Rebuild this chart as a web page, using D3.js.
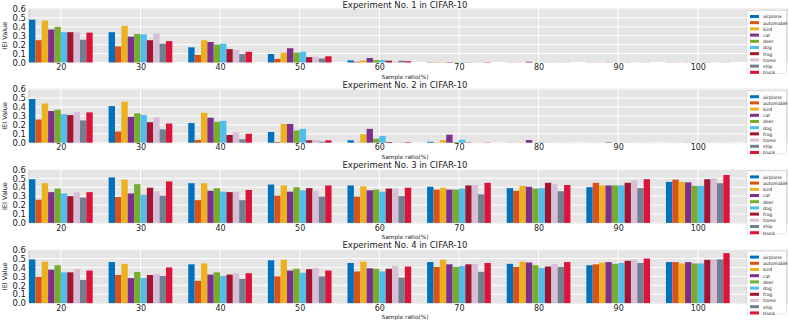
<!DOCTYPE html>
<html>
<head>
<meta charset="utf-8">
<script src="https://cdn.jsdelivr.net/npm/d3@7"></script>
<style>
  body { margin: 0; background: #fff; }
  text { font-family: "DejaVu Sans", sans-serif; }
</style>
</head>
<body>
<svg id="chart"></svg>
<script>
'use strict';

var WIDTH = 789,
	HEIGHT = 320;

// categories and labels
var classes = ['airplone', 'automable', 'bird', 'cat', 'deer', 'dog', 'frog', 'horse', 'ship', 'truck'];
var ratios = [20, 30, 40, 50, 60, 70, 80, 90, 100];
var yTicks = [0.0, 0.1, 0.2, 0.3, 0.4, 0.5, 0.6];
var titles = ['Experiment No. 1 in CIFAR-10', 'Experiment No. 2 in CIFAR-10',
	'Experiment No. 3 in CIFAR-10', 'Experiment No. 4 in CIFAR-10'];
var colors = ['#0072BD', '#D95319', '#EDB120', '#7E2F8E', '#77AC30',
	'#4DBEEE', '#A2142F', '#D8BFD8', '#708090', '#DC143C'];

// one row per sample ratio, one value per class
var exp1 = [
	[0.48, 0.25, 0.47, 0.37, 0.40, 0.34, 0.34, 0.34, 0.255, 0.335],
	[0.34, 0.18, 0.41, 0.29, 0.32, 0.315, 0.25, 0.325, 0.21, 0.24],
	[0.17, 0.085, 0.25, 0.23, 0.20, 0.21, 0.15, 0.14, 0.095, 0.12],
	[0.095, 0.04, 0.11, 0.16, 0.11, 0.12, 0.06, 0.065, 0.045, 0.07],
	[0.023, 0.008, 0.023, 0.05, 0.027, 0.027, 0.02, 0.01, 0.02, 0.015],
	[0.004, 0.003, 0.004, 0.005, 0.004, 0.005, 0.003, 0.004, 0.002, 0.004],
	[0.002, 0.002, 0.002, 0.008, 0.002, 0.002, 0.002, 0.004, 0.002, 0.002],
	[0.002, 0.002, 0.002, 0.003, 0.002, 0.002, 0.002, 0.002, 0.002, 0.002],
	[0.002, 0.002, 0.002, 0.002, 0.002, 0.002, 0.002, 0.002, 0.002, 0.002]
];
var exp2 = [
	[0.49, 0.26, 0.44, 0.355, 0.37, 0.32, 0.31, 0.345, 0.25, 0.34],
	[0.41, 0.125, 0.46, 0.29, 0.33, 0.31, 0.23, 0.285, 0.15, 0.215],
	[0.22, 0.03, 0.335, 0.28, 0.235, 0.245, 0.087, 0.118, 0.038, 0.10],
	[0.12, 0.008, 0.21, 0.21, 0.137, 0.155, 0.027, 0.03, 0.011, 0.027],
	[0.027, 0.003, 0.095, 0.155, 0.045, 0.075, 0.008, 0.004, 0.003, 0.006],
	[0.01, 0.002, 0.03, 0.09, 0.007, 0.033, 0.004, 0.003, 0.001, 0.003],
	[0.002, 0.001, 0.002, 0.03, 0.002, 0.005, 0.001, 0.001, 0.001, 0.001],
	[0.001, 0.001, 0.001, 0.005, 0.001, 0.001, 0.001, 0.001, 0.001, 0.001],
	[0.001, 0.001, 0.001, 0.002, 0.001, 0.001, 0.001, 0.001, 0.001, 0.001]
];
var exp3 = [
	[0.49, 0.26, 0.445, 0.345, 0.385, 0.33, 0.30, 0.345, 0.285, 0.345],
	[0.51, 0.29, 0.485, 0.33, 0.435, 0.315, 0.395, 0.355, 0.305, 0.465],
	[0.445, 0.255, 0.445, 0.36, 0.39, 0.35, 0.345, 0.35, 0.255, 0.37],
	[0.43, 0.305, 0.42, 0.35, 0.40, 0.365, 0.39, 0.36, 0.295, 0.42],
	[0.42, 0.295, 0.41, 0.365, 0.373, 0.35, 0.385, 0.385, 0.30, 0.395],
	[0.405, 0.373, 0.395, 0.373, 0.373, 0.385, 0.42, 0.425, 0.32, 0.45],
	[0.39, 0.36, 0.415, 0.405, 0.385, 0.39, 0.45, 0.435, 0.355, 0.425],
	[0.40, 0.45, 0.42, 0.42, 0.42, 0.42, 0.45, 0.48, 0.39, 0.49],
	[0.46, 0.485, 0.46, 0.455, 0.415, 0.415, 0.49, 0.50, 0.445, 0.537]
];
var exp4 = [
	[0.49, 0.295, 0.465, 0.375, 0.425, 0.345, 0.345, 0.38, 0.26, 0.365],
	[0.46, 0.315, 0.44, 0.28, 0.35, 0.28, 0.315, 0.33, 0.305, 0.40],
	[0.435, 0.25, 0.445, 0.32, 0.345, 0.305, 0.32, 0.335, 0.27, 0.335],
	[0.48, 0.30, 0.485, 0.365, 0.385, 0.34, 0.38, 0.395, 0.30, 0.365],
	[0.45, 0.355, 0.465, 0.39, 0.385, 0.355, 0.385, 0.415, 0.285, 0.41],
	[0.46, 0.405, 0.485, 0.435, 0.405, 0.415, 0.435, 0.44, 0.35, 0.45],
	[0.44, 0.405, 0.465, 0.455, 0.425, 0.395, 0.41, 0.44, 0.405, 0.46],
	[0.425, 0.435, 0.455, 0.46, 0.44, 0.45, 0.475, 0.49, 0.45, 0.50],
	[0.46, 0.46, 0.445, 0.46, 0.445, 0.445, 0.485, 0.49, 0.49, 0.56]
];
var experiments = [exp1, exp2, exp3, exp4];

var PLOT_LEFT = 29,
	PLOT_RIGHT = 787,
	PLOT_TOP = 9,
	PLOT_H = 53.5,
	PANEL_STEP = 80.2;

var svg = d3.select('#chart')
	.attr('width', WIDTH)
	.attr('height', HEIGHT);

var x = d3.scaleLinear()
	.domain([16, 111.2])
	.range([PLOT_LEFT, PLOT_RIGHT]);

var groupW = (x(30) - x(20)) * 0.8;

var inner = d3.scaleBand()
	.domain(classes)
	.range([-groupW / 2, groupW / 2])
	.padding(0);

experiments.forEach(function (data, p) {

	var top = PLOT_TOP + p * PANEL_STEP;

	var y = d3.scaleLinear()
		.domain([0, 0.6])
		.range([top + PLOT_H, top]);

	var g = svg.append('g').attr('class', 'panel');

	g.append('rect')
		.attr('x', PLOT_LEFT)
		.attr('y', top)
		.attr('width', PLOT_RIGHT - PLOT_LEFT)
		.attr('height', PLOT_H)
		.style('fill', '#e5e5e5')
		.style('stroke', '#bcbcbc')
		.style('stroke-width', 0.8);

	// grid
	g.selectAll('.hgrid')
		.data(yTicks)
		.enter()
		.append('line')
		.attr('x1', PLOT_LEFT)
		.attr('x2', PLOT_RIGHT)
		.attr('y1', function (d) { return y(d); })
		.attr('y2', function (d) { return y(d); })
		.style('stroke', '#fff')
		.style('stroke-width', 1);

	g.selectAll('.vgrid')
		.data(ratios)
		.enter()
		.append('line')
		.attr('x1', function (d) { return x(d); })
		.attr('x2', function (d) { return x(d); })
		.attr('y1', top)
		.attr('y2', top + PLOT_H)
		.style('stroke', '#fff')
		.style('stroke-width', 1);

	// bars
	var groups = g.selectAll('.grp')
		.data(data)
		.enter()
		.append('g')
		.attr('transform', function (d, i) { return 'translate(' + x(ratios[i]) + ',0)'; });

	groups.selectAll('rect')
		.data(function (row) { return row; })
		.enter()
		.append('rect')
		.attr('x', function (d, j) { return inner(classes[j]); })
		.attr('width', inner.bandwidth())
		.attr('y', function (d) { return y(d); })
		.attr('height', function (d) { return y(0) - y(d); })
		.style('fill', function (d, j) { return colors[j]; });

	// axes
	var yAxis = g.append('g')
		.attr('transform', 'translate(' + PLOT_LEFT + ',0)')
		.call(d3.axisLeft(y).tickValues(yTicks).tickFormat(d3.format('.1f')).tickSize(0).tickPadding(3));
	yAxis.select('.domain').remove();
	yAxis.selectAll('text')
		.style('font-family', 'DejaVu Sans')
		.style('font-size', '8.5px')
		.style('fill', '#222');

	var xAxis = g.append('g')
		.attr('transform', 'translate(0,' + (top + PLOT_H) + ')')
		.call(d3.axisBottom(x).tickValues(ratios).tickSize(0).tickPadding(2));
	xAxis.select('.domain').remove();
	xAxis.selectAll('text')
		.style('font-family', 'DejaVu Sans')
		.style('font-size', '8px')
		.style('fill', '#222');

	g.append('text')
		.attr('x', 405)
		.attr('y', top - 1.5)
		.attr('text-anchor', 'middle')
		.style('font-size', '8.5px')
		.style('fill', '#222')
		.text(titles[p]);

	g.append('text')
		.attr('x', 405)
		.attr('y', top + PLOT_H + 16)
		.attr('text-anchor', 'middle')
		.style('font-size', '5.8px')
		.style('fill', '#222')
		.text('Sample ratio(%)');

	g.append('text')
		.attr('transform', 'translate(7,' + (top + PLOT_H / 2) + ') rotate(-90)')
		.attr('text-anchor', 'middle')
		.style('font-size', '6.5px')
		.style('fill', '#222')
		.text('IEI Value');

	// legend
	var lg = g.append('g')
		.attr('transform', 'translate(747,' + (top + 1.5) + ')');

	lg.append('rect')
		.attr('width', 39.5)
		.attr('height', 63)
		.attr('rx', 1)
		.style('fill', '#fff')
		.style('fill-opacity', 0.9)
		.style('stroke', '#ccc')
		.style('stroke-width', 0.5);

	var items = lg.selectAll('.item')
		.data(classes)
		.enter()
		.append('g')
		.attr('transform', function (d, i) { return 'translate(3,' + (4.5 + i * 6.2) + ')'; });

	items.append('rect')
		.attr('width', 9)
		.attr('height', 3)
		.style('fill', function (d, i) { return colors[i]; });

	items.append('text')
		.attr('x', 13)
		.attr('y', 3.3)
		.style('font-size', '4.6px')
		.style('fill', '#222')
		.text(function (d) { return d; });
});
</script>
</body>
</html>
